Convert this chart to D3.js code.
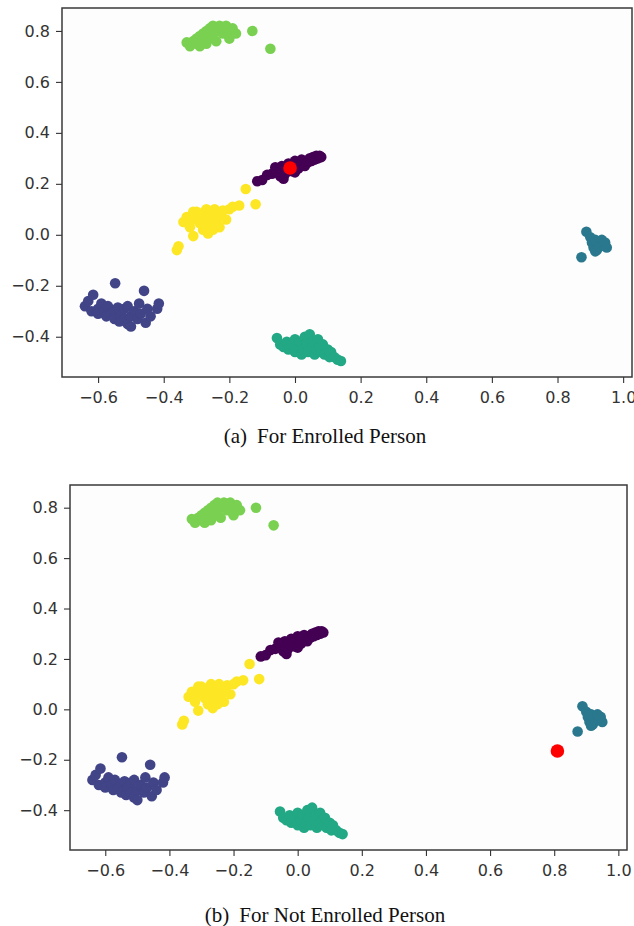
<!DOCTYPE html>
<html>
<head>
<meta charset="utf-8">
<script src="https://cdn.jsdelivr.net/npm/d3@7"></script>
<style>
    body { margin: 0; background: #fff; }
    .axis text { font-family: "DejaVu Sans", sans-serif; font-size: 16px; fill: #333; }
    .axis line { stroke: #333; stroke-width: 1.1; }
    .axis path { display: none; }
    .frame { fill: #fdfdfd; stroke: #3a3a3a; stroke-width: 1.5; }
    .caption { font-family: "Liberation Serif", serif; font-size: 21px; fill: #111; }
</style>
</head>
<body>
<div id="chart"></div>
<script>
// clusters (x, y)
let cluster0 = [[-0.115,0.21],[-0.10,0.215],[-0.085,0.235],[-0.07,0.24],[-0.06,0.265],[-0.05,0.25],
    [-0.045,0.23],[-0.04,0.27],[-0.035,0.22],[-0.03,0.24],[-0.025,0.26],[-0.02,0.28],[-0.01,0.25],
    [0.0,0.27],[0.0,0.29],[0.0,0.245],[0.01,0.26],[0.015,0.28],[0.02,0.295],[0.03,0.27],[0.03,0.29],
    [0.04,0.285],[0.045,0.3],[0.05,0.29],[0.055,0.305],[0.06,0.295],[0.065,0.31],[0.07,0.30],
    [0.075,0.31],[0.08,0.305]];
let cluster1 = [[-0.64,-0.28],[-0.63,-0.26],[-0.615,-0.235],[-0.62,-0.30],[-0.60,-0.29],[-0.60,-0.31],
    [-0.59,-0.27],[-0.58,-0.30],[-0.575,-0.32],[-0.57,-0.28],[-0.56,-0.31],[-0.55,-0.30],[-0.55,-0.33],
    [-0.548,-0.19],[-0.54,-0.285],[-0.535,-0.34],[-0.53,-0.31],[-0.52,-0.33],[-0.52,-0.29],[-0.51,-0.35],
    [-0.51,-0.28],[-0.50,-0.32],[-0.50,-0.36],[-0.49,-0.30],[-0.48,-0.33],[-0.475,-0.27],[-0.47,-0.31],
    [-0.46,-0.22],[-0.455,-0.345],[-0.45,-0.29],[-0.44,-0.32],[-0.42,-0.29],[-0.415,-0.27]];
let cluster2 = [[0.888,0.012],[0.873,-0.088],[0.90,-0.01],[0.905,-0.03],[0.91,-0.05],[0.915,-0.02],
    [0.92,-0.06],[0.925,-0.035],[0.93,-0.045],[0.935,-0.02],[0.94,-0.04],[0.945,-0.03],[0.95,-0.05],
    [0.915,-0.065]];
let cluster3 = [[-0.055,-0.405],[-0.045,-0.43],[-0.035,-0.44],[-0.025,-0.42],[-0.02,-0.45],[-0.01,-0.43],
    [0.0,-0.41],[0.0,-0.46],[0.01,-0.44],[0.015,-0.42],[0.02,-0.47],[0.025,-0.45],[0.03,-0.40],
    [0.035,-0.43],[0.04,-0.46],[0.045,-0.39],[0.05,-0.44],[0.055,-0.42],[0.06,-0.47],[0.065,-0.45],
    [0.07,-0.41],[0.075,-0.44],[0.08,-0.46],[0.085,-0.43],[0.09,-0.47],[0.10,-0.45],[0.105,-0.48],
    [0.11,-0.46],[0.12,-0.48],[0.13,-0.49],[0.14,-0.495]];
let cluster4 = [[-0.33,0.755],[-0.32,0.74],[-0.31,0.76],[-0.30,0.75],[-0.30,0.77],[-0.29,0.74],
    [-0.29,0.78],[-0.28,0.76],[-0.28,0.79],[-0.27,0.75],[-0.27,0.80],[-0.26,0.77],[-0.26,0.81],
    [-0.25,0.79],[-0.25,0.82],[-0.24,0.76],[-0.24,0.80],[-0.23,0.82],[-0.22,0.79],[-0.22,0.815],
    [-0.21,0.82],[-0.20,0.80],[-0.20,0.77],[-0.19,0.81],[-0.18,0.79],[-0.13,0.80],[-0.075,0.73]];
let cluster5 = [[-0.36,-0.06],[-0.355,-0.045],[-0.34,0.05],[-0.33,0.07],[-0.32,0.03],[-0.31,0.06],
    [-0.31,-0.005],[-0.31,0.09],[-0.30,0.09],[-0.29,0.045],[-0.285,0.075],[-0.28,0.02],[-0.275,0.09],
    [-0.27,0.055],[-0.27,0.10],[-0.265,0.005],[-0.26,0.035],[-0.255,0.075],[-0.25,0.02],[-0.245,0.10],
    [-0.24,0.05],[-0.235,0.07],[-0.23,0.03],[-0.22,0.095],[-0.21,0.06],[-0.20,0.10],[-0.19,0.11],
    [-0.17,0.115],[-0.15,0.18],[-0.12,0.12]];

let clusters = [cluster0, cluster1, cluster2, cluster3, cluster4, cluster5];

// the probe face for each panel
let queryEnrolled = [-0.015, 0.262];
let queryNotEnrolled = [0.81, -0.165];

let xTicks = [-0.6, -0.4, -0.2, 0.0, 0.2, 0.4, 0.6, 0.8, 1.0];
let yTicks = [-0.4, -0.2, 0.0, 0.2, 0.4, 0.6, 0.8];
let captions = ["(a)", "(b)"];
let captionTexts = ["For Enrolled Person", "For Not Enrolled Person"];

let totalWidth = 634
let totalHeight = 926

let svg = d3.select("#chart").append("svg")
    .attr("width", totalWidth)
    .attr("height", totalHeight);

let colorScale = d3.scaleOrdinal()
    .domain(d3.range(clusters.length))
    .range(d3.range(clusters.length).map(i => d3.interpolateViridis(i / (clusters.length - 1))));

function drawPanel(box, query, capIdx){
    let g = svg.append("g");

    let xScale = d3.scaleLinear()
        .domain([-0.71, 1.027])
        .range([box.left, box.right]);

    let yScale = d3.scaleLinear()
        .domain([-0.558, 0.89])
        .range([box.bottom, box.top]);

    g.append("rect")
        .attr("class", "frame")
        .attr("x", box.left)
        .attr("y", box.top)
        .attr("width", box.right - box.left)
        .attr("height", box.bottom - box.top);

    // points, one group per cluster
    clusters.forEach((pts, i) => {
        g.append("g")
            .selectAll("circle")
            .data(pts)
            .enter()
            .append("circle")
            .attr("cx", d => xScale(d[0]))
            .attr("cy", d => yScale(d[1]))
            .attr("r", 5.3)
            .attr("fill", colorScale(i));
    });

    g.append("circle")
        .attr("cx", xScale(query[0]))
        .attr("cy", yScale(query[1]))
        .attr("r", 6.8)
        .attr("fill", "#ff0000");

    let xAxis = d3.axisBottom(xScale)
        .tickValues(xTicks)
        .tickFormat(d3.format(".1f"))
        .tickSize(6)
        .tickPadding(9);

    g.append("g")
        .attr("class", "axis x-axis")
        .attr("transform", "translate(0," + box.bottom + ")")
        .call(xAxis);

    let yAxis = d3.axisLeft(yScale)
        .tickValues(yTicks)
        .tickFormat(d3.format(".1f"))
        .tickSize(6)
        .tickPadding(6);

    g.append("g")
        .attr("class", "axis y-axis")
        .attr("transform", "translate(" + box.left + ",0)")
        .call(yAxis);

    // subfigure caption
    let cap = g.append("text")
        .attr("class", "caption")
        .attr("x", 325)
        .attr("y", box.captionY)
        .attr("text-anchor", "middle");
    cap.append("tspan").text(captions[capIdx]);
    cap.append("tspan").attr("dx", 10).text(captionTexts[capIdx]);
}

drawPanel({left: 62, top: 8, right: 632, bottom: 377, captionY: 443}, queryEnrolled, 0);
drawPanel({left: 70, top: 485, right: 627, bottom: 850, captionY: 922}, queryNotEnrolled, 1);
</script>
</body>
</html>
